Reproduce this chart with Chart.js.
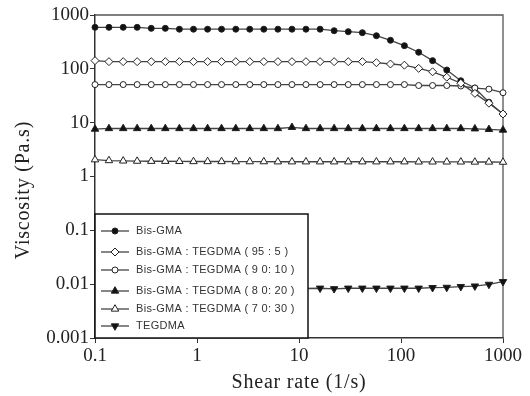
<!DOCTYPE html>
<html lang="en">
<head>
<meta charset="UTF-8">
<title>Viscosity vs shear rate</title>
<script src="https://cdn.jsdelivr.net/npm/chart.js@4"></script>
<style>
  html, body { margin: 0; padding: 0; background: #fff; }
</style>
</head>
<body>
<canvas id="chart" width="530" height="396"></canvas>
<script>
// shear rate (1/s), 30 log-spaced points
const shearRate = [0.1, 0.137, 0.189, 0.259, 0.356, 0.489, 0.672, 0.924, 1.27, 1.74,
  2.40, 3.29, 4.52, 6.21, 8.53, 11.7, 16.1, 22.1, 30.4, 41.8,
  57.4, 78.8, 108, 149, 204, 281, 386, 530, 728, 1000];

// viscosity (Pa.s)
const bisGMA = [590, 590, 590, 590, 565, 565, 545, 545, 545, 545,
  545, 545, 545, 545, 545, 545, 545, 511, 490, 469,
  412, 339, 269, 203, 142, 95, 60, 44, 24, 14.5];
const mix95 = [142, 136, 136, 136, 136, 136, 136, 136, 136, 136,
  136, 136, 136, 136, 136, 136, 136, 136, 136, 136,
  130, 123, 117, 102, 88, 70, 54, 35, 23, 14.5];
const mix90 = [51, 51, 51, 51, 51, 51, 51, 51, 51, 51,
  51, 51, 51, 51, 51, 51, 51, 51, 51, 51,
  51, 51, 51, 49, 49, 49, 48, 44, 42, 36];
const mix80 = [7.6, 7.8, 7.8, 7.8, 7.8, 7.8, 7.8, 7.8, 7.8, 7.8,
  7.8, 7.8, 7.8, 7.8, 8.2, 7.8, 7.8, 7.8, 7.8, 7.8,
  7.8, 7.8, 7.8, 7.8, 7.8, 7.8, 7.8, 7.7, 7.5, 7.3];
const mix70 = [2.05, 1.98, 1.95, 1.93, 1.92, 1.92, 1.91, 1.90, 1.90, 1.90,
  1.89, 1.89, 1.89, 1.88, 1.88, 1.88, 1.88, 1.88, 1.88, 1.88,
  1.88, 1.88, 1.88, 1.87, 1.87, 1.87, 1.87, 1.86, 1.86, 1.85];
// first points lie under the legend box
const tegdma = [0.0083, 0.0083, 0.0083, 0.0083, 0.0083, 0.0083, 0.0083, 0.0083, 0.0083, 0.0083,
  0.0083, 0.0083, 0.0083, 0.0083, 0.0083, 0.0083, 0.0084, 0.0082, 0.0084, 0.0084,
  0.0084, 0.0084, 0.0084, 0.0084, 0.0086, 0.0087, 0.0090, 0.0092, 0.0099, 0.0111];

const seriesLabels = ['Bis-GMA', 'Bis-GMA : TEGDMA ( 95 : 5 )', 'Bis-GMA : TEGDMA ( 9 0: 10 )',
  'Bis-GMA : TEGDMA ( 8 0: 20 )', 'Bis-GMA : TEGDMA ( 7 0: 30 )', 'TEGDMA'];
const yTickLabels = { '-3': '0.001', '-2': '0.01', '-1': '0.1', '0': '1', '1': '10', '2': '100', '3': '1000' };
const xTickLabels = { '-1': '0.1', '0': '1', '1': '10', '2': '100', '3': '1000' };

const series = [bisGMA, mix95, mix90, mix80, mix70, tegdma];
const markers = [
  { style: 'circle', r: 3, fill: '#111', rot: 0, order: 6 },
  { style: 'rectRot', r: 4, fill: '#fff', rot: 0, order: 4 },
  { style: 'circle', r: 3, fill: '#fff', rot: 0, order: 5 },
  { style: 'triangle', r: 4.3, fill: '#111', rot: 0, order: 3 },
  { style: 'triangle', r: 4.3, fill: '#fff', rot: 0, order: 2 },
  { style: 'triangle', r: 4.3, fill: '#111', rot: 180, order: 1 }
];

const datasets = series.map((vals, i) => ({
  label: seriesLabels[i],
  data: shearRate.map((x, j) => ({ x: x, y: vals[j] })),
  order: markers[i].order,
  borderColor: '#444',
  borderWidth: 1.3,
  pointStyle: markers[i].style,
  pointRotation: markers[i].rot,
  // TEGDMA markers hidden where the legend box sits
  pointRadius: vals === tegdma ? shearRate.map(x => (x < 16 ? 0 : markers[i].r)) : markers[i].r,
  pointBackgroundColor: markers[i].fill,
  pointBorderColor: '#222',
  pointBorderWidth: 1,
  clip: false
}));

const isDecade = v => Math.abs(Math.log10(v) - Math.round(Math.log10(v))) < 1e-6;

// top/right frame of the plot
const framePlugin = {
  id: 'frame',
  beforeDatasetsDraw(chart) {
    const { ctx, chartArea: a } = chart;
    ctx.save();
    ctx.strokeStyle = '#555';
    ctx.lineWidth = 1.3;
    ctx.beginPath();
    ctx.moveTo(a.left, a.top);
    ctx.lineTo(a.right, a.top);
    ctx.lineTo(a.right, a.bottom);
    ctx.stroke();
    ctx.restore();
  }
};

// boxed legend in the lower left corner, covering the data below it
const legendBox = {
  id: 'legendBox',
  afterDatasetsDraw(chart) {
    const { ctx, chartArea: a } = chart;
    const left = a.left, right = 308, top = 214, bottom = a.bottom;
    const rows = [231, 252, 270, 291, 309, 326];
    ctx.save();
    ctx.fillStyle = '#fff';
    ctx.fillRect(left, top, right - left, bottom - top);
    ctx.strokeStyle = '#111';
    ctx.lineWidth = 1.5;
    ctx.strokeRect(left, top, right - left, bottom - top);
    chart.data.datasets.forEach((ds, i) => {
      const y = rows[i];
      ctx.strokeStyle = '#444';
      ctx.lineWidth = 1.3;
      ctx.beginPath();
      ctx.moveTo(101, y);
      ctx.lineTo(129, y);
      ctx.stroke();
      ctx.fillStyle = ds.pointBackgroundColor;
      ctx.strokeStyle = ds.pointBorderColor;
      ctx.lineWidth = 1;
      Chart.helpers.drawPoint(ctx, {
        pointStyle: ds.pointStyle, radius: markers[i].r, rotation: ds.pointRotation, borderWidth: 1
      }, 115, y);
      ctx.fillStyle = '#333';
      ctx.font = '11px "Liberation Sans", Arial, sans-serif';
      if ('letterSpacing' in ctx) ctx.letterSpacing = '0.3px';
      ctx.textAlign = 'left';
      ctx.textBaseline = 'middle';
      ctx.fillText(ds.label, 136, y);
    });
    ctx.restore();
  }
};

const axisTitles = {
  id: 'axisTitles',
  afterDraw(chart) {
    const { ctx, chartArea: a } = chart;
    ctx.save();
    ctx.fillStyle = '#222';
    ctx.font = '20px "Liberation Serif", "Times New Roman", serif';
    if ('letterSpacing' in ctx) ctx.letterSpacing = '0.8px';
    ctx.textAlign = 'center';
    ctx.textBaseline = 'middle';
    ctx.fillText('Shear rate (1/s)', (a.left + a.right) / 2, 383);
    ctx.translate(24, 190);
    ctx.rotate(-Math.PI / 2);
    ctx.fillText('Viscosity (Pa.s)', 0, 0);
    ctx.restore();
  }
};

const tickFont = { family: '"Liberation Serif", "Times New Roman", serif', size: 19 };

new Chart(document.getElementById('chart'), {
  type: 'line',
  data: { datasets: datasets },
  options: {
    responsive: false,
    animation: false,
    layout: { padding: { top: 15, right: 27, left: 0, bottom: 0 } },
    plugins: { legend: { display: false }, tooltip: { enabled: false } },
    scales: {
      x: {
        type: 'logarithmic',
        min: 0.1,
        max: 1000,
        afterBuildTicks: s => { s.ticks = s.ticks.filter(t => isDecade(t.value)); },
        afterFit: s => { s.height = 58; },
        ticks: {
          autoSkip: false, maxRotation: 0, padding: 2, color: '#222', font: tickFont,
          callback: v => xTickLabels[Math.round(Math.log10(v))]
        },
        grid: { drawOnChartArea: false, drawTicks: true, tickLength: 5, tickColor: '#333' },
        border: { display: true, color: '#333', width: 1.5 }
      },
      y: {
        type: 'logarithmic',
        min: 0.001,
        max: 1000,
        afterBuildTicks: s => { s.ticks = s.ticks.filter(t => isDecade(t.value)); },
        afterFit: s => { s.width = 95; },
        ticks: {
          autoSkip: false, padding: 1, color: '#222', font: tickFont,
          callback: v => yTickLabels[Math.round(Math.log10(v))]
        },
        grid: { drawOnChartArea: false, drawTicks: true, tickLength: 5, tickColor: '#333' },
        border: { display: true, color: '#333', width: 1.5 }
      }
    }
  },
  plugins: [framePlugin, legendBox, axisTitles]
});
</script>
</body>
</html>
